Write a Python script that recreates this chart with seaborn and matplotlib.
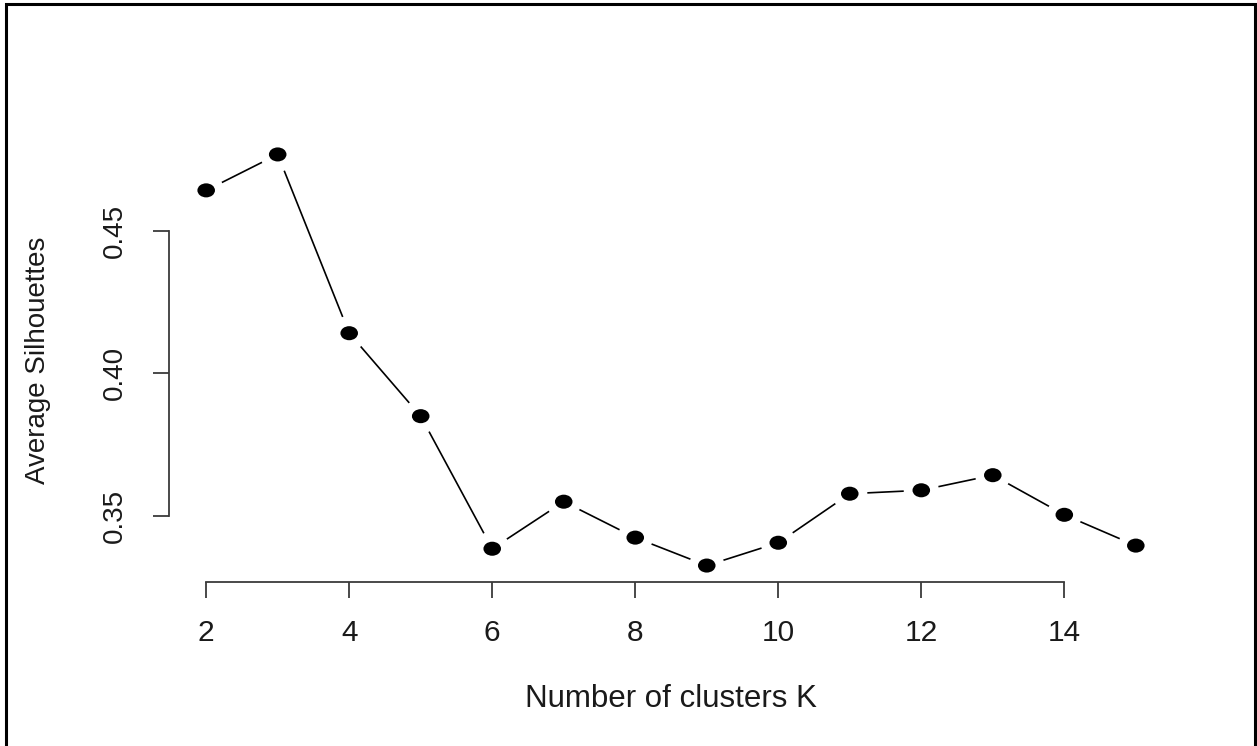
import numpy as np
import pandas as pd
import matplotlib
matplotlib.use("Agg")
import matplotlib.pyplot as plt
import seaborn as sns
from matplotlib.path import Path
from matplotlib.transforms import Affine2D
from matplotlib.patches import Rectangle

# Data
k_values = [2, 3, 4, 5, 6, 7, 8, 9, 10, 11, 12, 13, 14, 15]
avg_silhouettes = [0.4641, 0.4767, 0.4140, 0.3849, 0.3384, 0.3549, 0.3423,
                   0.3325, 0.3405, 0.3577, 0.3589, 0.3642, 0.3503, 0.3395]
x_ticks = [2, 4, 6, 8, 10, 12, 14]
y_ticks = [0.35, 0.40, 0.45]
x_label = "Number of clusters K"
y_label = "Average Silhouettes"

df = pd.DataFrame({"K": k_values, "sil": avg_silhouettes})

sns.set_theme(style="white")
plt.rcParams["font.family"] = ["Liberation Sans", "DejaVu Sans"]

W, H = 1257, 746
fig = plt.figure(figsize=(W / 100, H / 100), dpi=100)
ax_l, ax_r, ax_t, ax_b = 169, 1173, 138, 582
ax = fig.add_axes([ax_l / W, 1 - ax_b / H, (ax_r - ax_l) / W, (ax_b - ax_t) / H])

ell = Path.unit_circle().transformed(Affine2D().scale(1.0, 0.8))

sns.lineplot(data=df, x="K", y="sil", ax=ax, color="black", linewidth=1.2, zorder=1)
sns.scatterplot(data=df, x="K", y="sil", ax=ax, marker="o", s=640, color="white",
                edgecolor="none", linewidth=0, zorder=2)
sns.scatterplot(data=df, x="K", y="sil", ax=ax, marker=ell, s=160, color="black",
                edgecolor="none", linewidth=0, zorder=3)

xmin, xmax = min(k_values), max(k_values)
ymin, ymax = min(avg_silhouettes), max(avg_silhouettes)
xr, yr = xmax - xmin, ymax - ymin
ax.set_xlim(xmin - 0.04 * xr, xmax + 0.04 * xr)
ax.set_ylim(ymin - 0.04 * yr, ymax + 0.04 * yr)

text_col = "#1a1a1a"
axis_col = "#3a3a3a"
px = 0.72  # points per pixel at 100 dpi

ax.set_xticks(x_ticks)
ax.set_xticklabels([str(v) for v in x_ticks], fontsize=21.5, color=text_col)
ax.set_yticks(y_ticks)
ax.set_yticklabels([f"{v:.2f}" for v in y_ticks], fontsize=20, color=text_col)

for s in ["top", "right"]:
    ax.spines[s].set_visible(False)
ax.spines["left"].set_bounds(min(y_ticks), max(y_ticks))
ax.spines["bottom"].set_bounds(min(x_ticks), max(x_ticks))
for s in ["left", "bottom"]:
    ax.spines[s].set_color(axis_col)
    ax.spines[s].set_linewidth(1.3)

tick_len_px = 16
ax.tick_params(axis="both", direction="out", length=tick_len_px * px, width=1.3,
               color=axis_col)
ax.tick_params(axis="x", bottom=True, pad=(642 - 599) * px)
ax.tick_params(axis="y", left=True, pad=(ax_l - tick_len_px - 122) * px)

for lab in ax.get_xticklabels():
    lab.set_va("baseline")
    lab.set_ha("center")
for lab in ax.get_yticklabels():
    lab.set_rotation(90)
    lab.set_rotation_mode("anchor")
    lab.set_ha("center")
    lab.set_va("baseline")

ax.set_xlabel(x_label, fontsize=22.5, color=text_col)
ax.xaxis.label.set_va("baseline")
ax.xaxis.set_label_coords(0.5, (ax_b - 707) / (ax_b - ax_t))

ax.set_ylabel(y_label, fontsize=20, color=text_col)
ax.yaxis.label.set_rotation_mode("anchor")
ax.yaxis.label.set_va("baseline")
ax.yaxis.label.set_ha("center")
ax.yaxis.set_label_coords((45 - ax_l) / (ax_r - ax_l), 0.5)
ax.patch.set_alpha(0)

# frame around the picture (open at the bottom edge, as in the source)
fig.patches.append(Rectangle((6 / W, -10 / H), 1249 / W, (H + 10 - 4) / H,
                             transform=fig.transFigure, fill=False,
                             edgecolor="black", linewidth=2.2, zorder=10))

fig.savefig("out.png", dpi=100, facecolor="white")
